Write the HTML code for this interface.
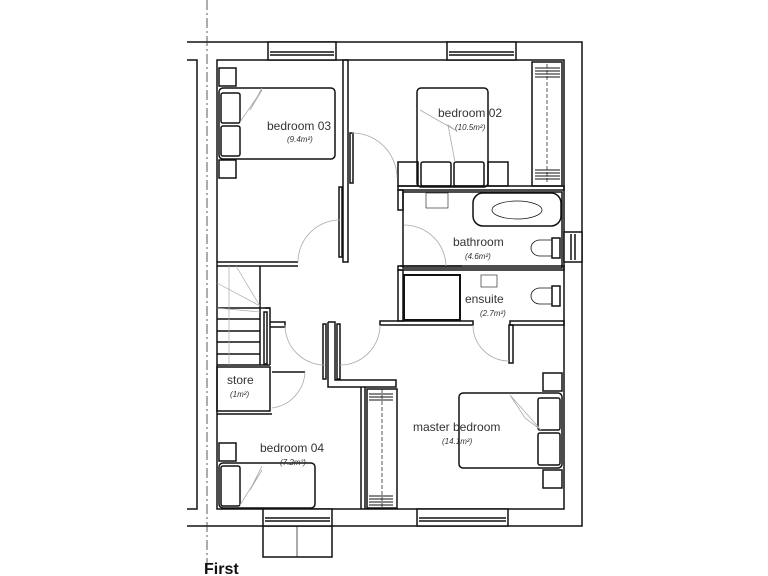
<!DOCTYPE html>
<html><head><meta charset="utf-8"><style>
html,body{margin:0;padding:0;background:#fff}
svg{display:block}
text{font-family:"Liberation Sans",sans-serif;fill:#333}
.l{font-size:12px}
.a{font-size:8px;font-style:italic}
</style></head><body>
<svg width="768" height="576" viewBox="0 0 768 576" xmlns="http://www.w3.org/2000/svg">
<g fill="none" stroke="#111" stroke-width="1.5">
<polyline points="187,42 582,42 582,526 187,526"/>
<polyline points="187,60 197,60 197,509 187,509"/>
<rect x="217" y="60" width="347" height="449"/>
<rect x="268" y="42" width="68" height="18" fill="#fff"/>
<line x1="270" y1="52" x2="334" y2="52"/><line x1="270" y1="55" x2="334" y2="55"/>
<rect x="447" y="42" width="69" height="18" fill="#fff"/>
<line x1="449" y1="52" x2="514" y2="52"/><line x1="449" y1="55" x2="514" y2="55"/>
<rect x="263" y="509" width="69" height="17" fill="#fff"/>
<line x1="265" y1="518" x2="330" y2="518"/><line x1="265" y1="521" x2="330" y2="521"/>
<polyline points="263,526 263,557 332,557 332,526"/>
<line x1="297" y1="526" x2="297" y2="557" stroke-width="0.7"/>
<rect x="417" y="509" width="91" height="17" fill="#fff"/>
<line x1="419" y1="518" x2="506" y2="518"/><line x1="419" y1="521" x2="506" y2="521"/>
<rect x="564" y="232" width="18" height="30" fill="#fff"/>
<line x1="571" y1="234" x2="571" y2="260"/><line x1="575" y1="234" x2="575" y2="260"/>
<rect x="343" y="60" width="5" height="202"/>
<line x1="217" y1="262" x2="298" y2="262"/><line x1="217" y1="266" x2="298" y2="266"/>
<rect x="339" y="187" width="3" height="70"/>
<rect x="350" y="133" width="3" height="50"/>
<line x1="260" y1="266" x2="260" y2="365"/>
<line x1="217" y1="308" x2="270" y2="308"/>
<line x1="217" y1="319" x2="260" y2="319"/><line x1="217" y1="331" x2="260" y2="331"/>
<line x1="217" y1="342" x2="260" y2="342"/><line x1="217" y1="354" x2="260" y2="354"/>
<line x1="217" y1="365" x2="270" y2="365"/>
<g stroke="#aaa" stroke-width="0.7"><line x1="229" y1="266" x2="229" y2="365"/><line x1="217" y1="283" x2="260" y2="306"/><line x1="236" y1="266" x2="260" y2="306"/><line x1="217" y1="308" x2="260" y2="312"/></g>
<polyline points="265,308 270,308 270,365"/>
<polyline points="270,322 285,322 285,327 270,327"/>
<rect x="264" y="312" width="3" height="52"/>
<rect x="217" y="367" width="53" height="44"/>
<line x1="272" y1="372" x2="305" y2="372"/>
<line x1="217" y1="414" x2="272" y2="414"/>
<polyline points="328,322 335,322 335,380 396,380 396,387 328,387 328,322"/>
<rect x="323" y="324" width="3" height="55"/>
<rect x="337" y="324" width="3" height="55"/>
<line x1="361" y1="387" x2="361" y2="509"/><line x1="365" y1="387" x2="365" y2="509"/>
<rect x="398" y="186" width="166" height="4"/>
<rect x="398" y="190" width="5" height="20"/>
<rect x="403" y="192" width="159" height="76"/>
<rect x="473" y="193" width="88" height="33" rx="10"/>
<ellipse cx="517" cy="210" rx="25" ry="9" stroke-width="0.7"/>
<line x1="400" y1="266" x2="462" y2="266"/>
<rect x="398" y="266" width="166" height="4"/>
<rect x="398" y="270" width="5" height="51"/>
<rect x="404" y="275" width="56" height="45" stroke-width="2"/>
<rect x="380" y="321" width="93" height="4"/>
<rect x="510" y="321" width="54" height="4"/>
<rect x="509" y="325" width="4" height="38"/>
<path d="M552,240 h-12 a9,8 0 0 0 0,16 h12 z" stroke-width="0.8"/>
<rect x="552" y="238" width="8" height="20"/>
<path d="M552,288 h-12 a9,8 0 0 0 0,16 h12 z" stroke-width="0.8"/>
<rect x="552" y="286" width="8" height="20"/>
<rect x="426" y="193" width="22" height="15" stroke-width="0.6"/>
<rect x="481" y="275" width="16" height="12" stroke-width="0.6"/>
<rect x="417" y="88" width="71" height="99" rx="4"/>
<rect x="398" y="162" width="20" height="24"/>
<rect x="488" y="162" width="20" height="24"/>
<rect x="421" y="162" width="30" height="24" rx="2"/>
<rect x="454" y="162" width="30" height="24" rx="2"/>
<rect x="532" y="62" width="30" height="124"/>
<line x1="547" y1="64" x2="547" y2="184" stroke-dasharray="4,2" stroke-width="0.7"/>
<g stroke-width="1"><line x1="535" y1="68" x2="560" y2="68"/><line x1="535" y1="71" x2="560" y2="71"/><line x1="535" y1="74" x2="560" y2="74"/><line x1="535" y1="77" x2="560" y2="77"/>
<line x1="535" y1="170" x2="560" y2="170"/><line x1="535" y1="173" x2="560" y2="173"/><line x1="535" y1="176" x2="560" y2="176"/><line x1="535" y1="179" x2="560" y2="179"/></g>
<rect x="219" y="68" width="17" height="18"/>
<rect x="219" y="160" width="17" height="18"/>
<rect x="219" y="88" width="116" height="71" rx="4"/>
<rect x="221" y="93" width="19" height="30" rx="2"/>
<rect x="221" y="126" width="19" height="30" rx="2"/>
<rect x="219" y="443" width="17" height="18"/>
<rect x="219" y="463" width="96" height="45" rx="4"/>
<rect x="221" y="466" width="19" height="40" rx="2"/>
<rect x="543" y="373" width="19" height="18"/>
<rect x="543" y="470" width="19" height="18"/>
<rect x="459" y="393" width="103" height="75" rx="4"/>
<rect x="538" y="398" width="22" height="32" rx="2"/>
<rect x="538" y="433" width="22" height="32" rx="2"/>
<rect x="367" y="389" width="30" height="119"/>
<line x1="382" y1="389" x2="382" y2="508" stroke-dasharray="4,2" stroke-width="0.7"/>
<g stroke-width="1"><line x1="369" y1="394" x2="393" y2="394"/><line x1="369" y1="397" x2="393" y2="397"/><line x1="369" y1="400" x2="393" y2="400"/>
<line x1="369" y1="496" x2="393" y2="496"/><line x1="369" y1="499" x2="393" y2="499"/><line x1="369" y1="502" x2="393" y2="502"/><line x1="369" y1="505" x2="393" y2="505"/></g>
</g>
<g fill="none" stroke="#aaa" stroke-width="0.8">
<path d="M298,262 A42,42 0 0 1 340,220"/>
<path d="M352,133 A45,45 0 0 1 397,178"/>
<path d="M404,225 A42,42 0 0 1 446,266"/>
<path d="M285,325 A40,40 0 0 0 325,365"/>
<path d="M380,325 A40,40 0 0 1 340,365"/>
<path d="M473,325 A36,36 0 0 0 509,361"/>
<path d="M305,372 A38,38 0 0 1 272,408"/>
<polyline points="240,122 262,90 250,110 262,88"/>
<polyline points="420,110 455,130 448,125 455,162"/>
<polyline points="541,430 510,395 525,418 541,430"/>
<polyline points="240,505 262,470 250,490 262,466"/>
<line x1="207" y1="0" x2="207" y2="576" stroke="#333" stroke-dasharray="10,3,2,3"/>
</g>
<text class="l" x="267" y="130">bedroom 03</text>
<text class="a" x="287" y="142">(9.4m²)</text>
<text class="l" x="438" y="117">bedroom 02</text>
<text class="a" x="455" y="130">(10.5m²)</text>
<text class="l" x="453" y="246">bathroom</text>
<text class="a" x="465" y="259">(4.6m²)</text>
<text class="l" x="465" y="303">ensuite</text>
<text class="a" x="480" y="316">(2.7m²)</text>
<text class="l" x="227" y="384">store</text>
<text class="a" x="230" y="397">(1m²)</text>
<text class="l" x="260" y="452">bedroom 04</text>
<text class="a" x="280" y="465">(7.2m²)</text>
<text class="l" x="413" y="431">master bedroom</text>
<text class="a" x="442" y="444">(14.1m²)</text>
<text x="204" y="574" style="font-size:16px;font-weight:bold;fill:#111">First</text>
</svg>
</body></html>
